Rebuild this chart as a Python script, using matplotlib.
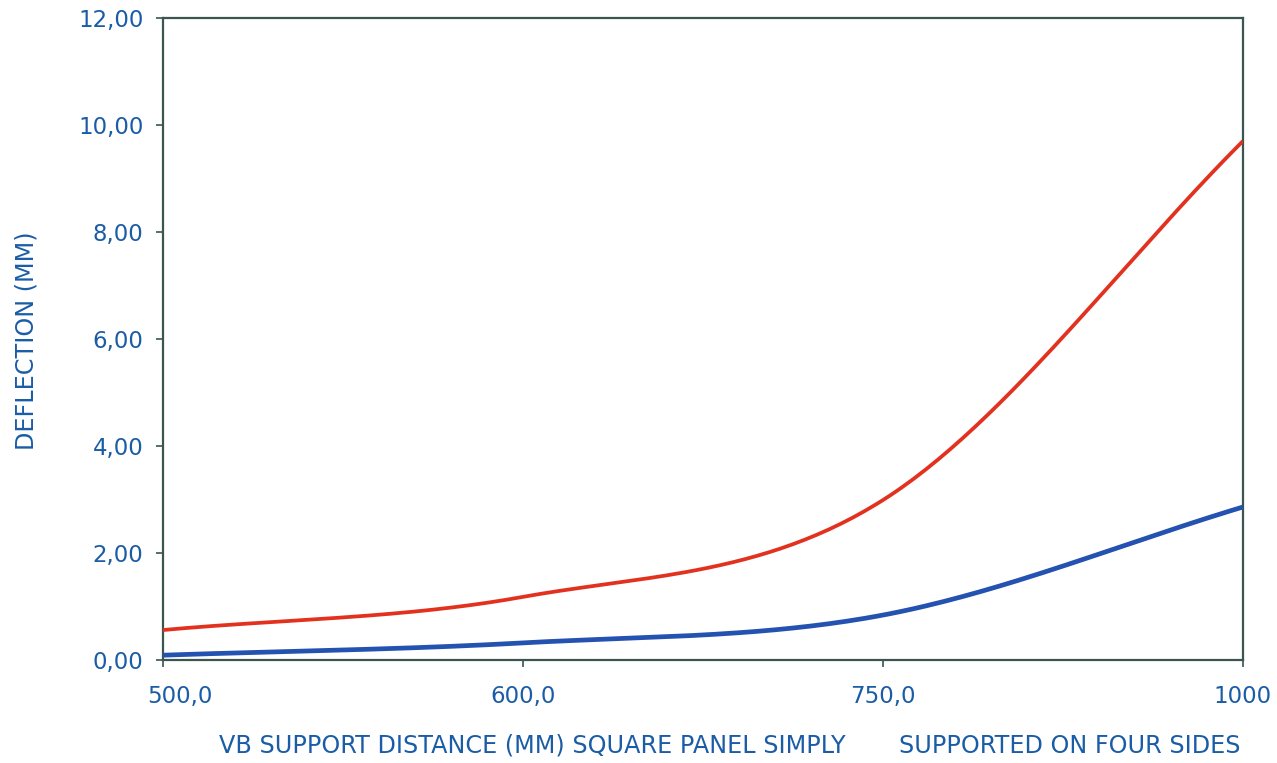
import numpy as np
import matplotlib
matplotlib.use("Agg")
import matplotlib.pyplot as plt
from matplotlib.transforms import ScaledTranslation

categories = ["500,0", "600,0", "750,0", "1000"]
red_values = [0.56, 1.18, 2.99, 9.70]
blue_values = [0.09, 0.32, 0.84, 2.86]
y_ticks = [0, 2, 4, 6, 8, 10, 12]
y_tick_labels = ["0,00", "2,00", "4,00", "6,00", "8,00", "10,00", "12,00"]

TEXT = "#1a5ca6"
AXC = "#3b5550"
RED = "#e2321f"
BLUE = "#2352b0"

plt.rcParams['font.family'] = ['DejaVu Sans']


def smooth(xs, ys, n=60):
    # Catmull-Rom style smoothing through the data points (display only)
    xs = np.asarray(xs, float); ys = np.asarray(ys, float)
    px = np.concatenate([[2 * xs[0] - xs[1]], xs, [2 * xs[-1] - xs[-2]]])
    py = np.concatenate([[2 * ys[0] - ys[1]], ys, [2 * ys[-1] - ys[-2]]])
    ox, oy = [], []
    for i in range(1, len(px) - 2):
        t = np.linspace(0, 1, n, endpoint=(i == len(px) - 3))
        for P, out in ((px, ox), (py, oy)):
            p0, p1, p2, p3 = P[i - 1], P[i], P[i + 1], P[i + 2]
            out.extend(0.5 * ((2 * p1) + (-p0 + p2) * t
                              + (2 * p0 - 5 * p1 + 4 * p2 - p3) * t ** 2
                              + (-p0 + 3 * p1 - 3 * p2 + p3) * t ** 3))
    return np.array(ox), np.array(oy)


fig = plt.figure(figsize=(12.77, 7.63), dpi=100)
ax = fig.add_axes([163 / 1277, 1 - 660 / 763, (1243 - 163) / 1277, (660 - 18) / 763])

x = np.arange(len(categories))
rx, ry = smooth(x, red_values)
bx, by = smooth(x, blue_values)
ax.plot(rx, ry, color=RED, lw=2.7, solid_capstyle='butt', zorder=3)
ax.plot(bx, by, color=BLUE, lw=3.4, solid_capstyle='butt', zorder=3)

ax.set_xlim(0, len(categories) - 1)
ax.set_ylim(0, 12)
ax.set_xticks(x)
ax.set_xticklabels(categories)
ax.set_yticks(y_ticks)
ax.set_yticklabels(y_tick_labels)

for s in ax.spines.values():
    s.set_color(AXC)
    s.set_linewidth(1.6)
ax.tick_params(axis='both', colors=AXC, labelcolor=TEXT, labelsize=16.5,
               direction='out', length=5, width=1.2)
ax.tick_params(axis='x', pad=13)
ax.tick_params(axis='y', pad=9)

# first x label sits inside the plot edge as in the reference
lbls = ax.get_xticklabels()
lbls[0].set_transform(lbls[0].get_transform() + ScaledTranslation(0.17, 0, fig.dpi_scale_trans))

fig.text(27 / 1277, 1 - 341 / 763, "DEFLECTION (MM)", rotation=90, color=TEXT,
         fontsize=17.2, ha='center', va='center')
fig.text(730 / 1277, 1 - 745 / 763,
         "VB SUPPORT DISTANCE (MM) SQUARE PANEL SIMPLY       SUPPORTED ON FOUR SIDES",
         color=TEXT, fontsize=17.2, ha='center', va='center')

fig.savefig("out.png", dpi=100)
